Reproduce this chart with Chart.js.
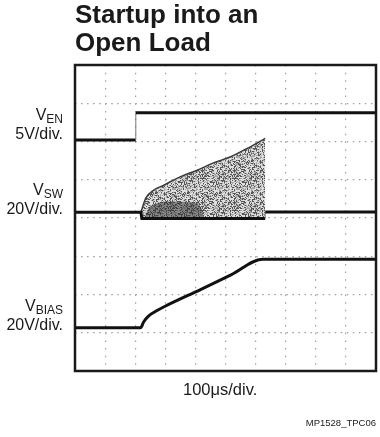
<!DOCTYPE html>
<html>
<head>
<meta charset="utf-8">
<script src="https://cdn.jsdelivr.net/npm/chart.js@4/dist/chart.umd.min.js"></script>
<style>
  html, body { margin: 0; padding: 0; background: #fff; }
  body { width: 380px; height: 437px; position: relative; overflow: hidden;
         font-family: "Liberation Sans", Arial, sans-serif; color: #1a1a1a; }
  #scope { position: absolute; left: 0; top: 0; }
  .txt { position: absolute; line-height: 1; white-space: nowrap; }
  .title { left: 75px; font-size: 26px; font-weight: bold; }
  .ch { right: 317px; font-size: 16px; text-align: right; }
  .ch span { font-size: 12px; vertical-align: -3px; }
  .xlab { left: 183px; top: 381px; font-size: 16.5px; }
  .fig { right: 4px; top: 418px; font-size: 9.5px; }
</style>
</head>
<body>
<canvas id="scope" width="380" height="437"></canvas>

<div class="txt title" style="top:1px">Startup into an</div>
<div class="txt title" style="top:29px">Open Load</div>

<div class="txt ch" style="top:107px">V<span>EN</span></div>
<div class="txt ch" style="top:126px">5V/div.</div>
<div class="txt ch" style="top:182px">V<span>SW</span></div>
<div class="txt ch" style="top:201px">20V/div.</div>
<div class="txt ch" style="top:298px">V<span>BIAS</span></div>
<div class="txt ch" style="top:317px">20V/div.</div>

<div class="txt xlab">100μs/div.</div>
<div class="txt fig">MP1528_TPC06</div>

<script>
// time in µs (100µs/div), levels in screen divisions counted from the bottom
const enTime = [0, 202, 202, 1000];
const enLevel = [6.04, 6.04, 6.75, 6.75];

const swTime = [0, 219, 222, 632, 632, 1000];
const swLevel = [4.15, 4.15, 3.99, 3.99, 4.16, 4.16];

// switching burst: upper envelope and its floor
const burstTime = [219, 235, 262, 295, 351, 406, 460, 517, 572, 632];
const burstTop = [4.15, 4.52, 4.73, 4.86, 5.08, 5.25, 5.44, 5.60, 5.82, 6.08];
const floorTime = [219, 632];
const floorLevel = [3.99, 3.99];

// denser part of the burst near the start
const coreTime = [232, 245, 268, 318, 384, 417, 427];
const coreTop = [4.0, 4.24, 4.36, 4.42, 4.40, 4.28, 4.02];
const coreFloorTime = [232, 427];
const coreFloorLevel = [3.99, 3.99];

const biasTime = [0, 218, 228, 245, 268, 301, 417, 520, 623, 1000];
const biasLevel = [1.13, 1.13, 1.28, 1.44, 1.56, 1.70, 2.13, 2.52, 2.92, 2.92];

function pts(xs, ys) {
    return xs.map((x, i) => ({ x: x, y: ys[i] }));
}

// vertical edges of the traces are faint on a scope capture
const thinEdges = {
    borderColor: ctx => ctx.p0.parsed.x === ctx.p1.parsed.x ? '#777' : undefined,
    borderWidth: ctx => ctx.p0.parsed.x === ctx.p1.parsed.x ? 1 : undefined
};

// speckled fill for the switching burst (fixed hash, same every render)
function stipple(ctx) {
    const n = 32;
    const c = document.createElement('canvas');
    c.width = n; c.height = n;
    const g = c.getContext('2d');
    g.fillStyle = '#dedede';
    g.fillRect(0, 0, n, n);
    for (let i = 0; i < n; i++) {
        for (let j = 0; j < n; j++) {
            let k = i * n + j + 1;
            k = Math.imul(k ^ (k >>> 16), 0x45d9f3b);
            k = Math.imul(k ^ (k >>> 16), 0x45d9f3b);
            k = ((k ^ (k >>> 16)) >>> 0) % 100;
            if (k < 28) { g.fillStyle = '#555'; g.fillRect(i, j, 1, 1); }
            else if (k < 58) { g.fillStyle = '#a4a4a4'; g.fillRect(i, j, 1, 1); }
        }
    }
    return ctx.createPattern(c, 'repeat');
}

const framePlugin = {
    id: 'frame',
    afterDraw(chart) {
        const { ctx, chartArea: a } = chart;
        ctx.save();
        ctx.strokeStyle = '#1a1a1a';
        ctx.lineWidth = 2.5;
        ctx.strokeRect(a.left, a.top, a.right - a.left, a.bottom - a.top);
        ctx.restore();
    }
};

const canvas = document.getElementById('scope');
const ctx = canvas.getContext('2d');

const trace = { borderColor: '#111', borderWidth: 3, pointRadius: 0, fill: false, tension: 0, order: 0 };

new Chart(ctx, {
    type: 'line',
    data: {
        datasets: [
            Object.assign({ label: 'VEN', data: pts(enTime, enLevel), segment: thinEdges }, trace),
            Object.assign({ label: 'VSW', data: pts(swTime, swLevel), segment: thinEdges }, trace),
            Object.assign({ label: 'VBIAS', data: pts(biasTime, biasLevel), cubicInterpolationMode: 'monotone' }, trace),
            {
                label: 'burst', data: pts(burstTime, burstTop), order: 2,
                borderColor: '#3a3a3a', borderWidth: 1.5, pointRadius: 0,
                cubicInterpolationMode: 'monotone',
                backgroundColor: stipple(ctx), fill: 4
            },
            {
                label: 'burst floor', data: pts(floorTime, floorLevel), order: 3,
                borderWidth: 0, pointRadius: 0, fill: false
            },
            {
                label: 'core', data: pts(coreTime, coreTop), order: 1,
                borderColor: 'rgba(50,50,50,0.45)', borderWidth: 1, pointRadius: 0,
                cubicInterpolationMode: 'monotone',
                backgroundColor: 'rgba(45,45,45,0.5)', fill: 6
            },
            {
                label: 'core floor', data: pts(coreFloorTime, coreFloorLevel), order: 3,
                borderWidth: 0, pointRadius: 0, fill: false
            }
        ]
    },
    options: {
        responsive: false,
        animation: false,
        devicePixelRatio: 1,
        layout: { padding: { left: 75, top: 65, right: 4, bottom: 66 } },
        plugins: { legend: { display: false }, tooltip: { enabled: false } },
        scales: {
            x: {
                type: 'linear', min: 0, max: 1000,
                ticks: { display: false, stepSize: 100 },
                grid: { color: '#a0a0a0', lineWidth: 1.2, drawTicks: false, borderDash: [1.5, 6.15] },
                border: { display: false, dash: [1.5, 6.15] }
            },
            y: {
                type: 'linear', min: 0, max: 8,
                ticks: { display: false, stepSize: 1 },
                grid: { color: '#a0a0a0', lineWidth: 1.2, drawTicks: false, borderDash: [1.5, 4.54] },
                border: { display: false, dash: [1.5, 4.54] }
            }
        }
    },
    plugins: [framePlugin]
});
</script>
</body>
</html>
